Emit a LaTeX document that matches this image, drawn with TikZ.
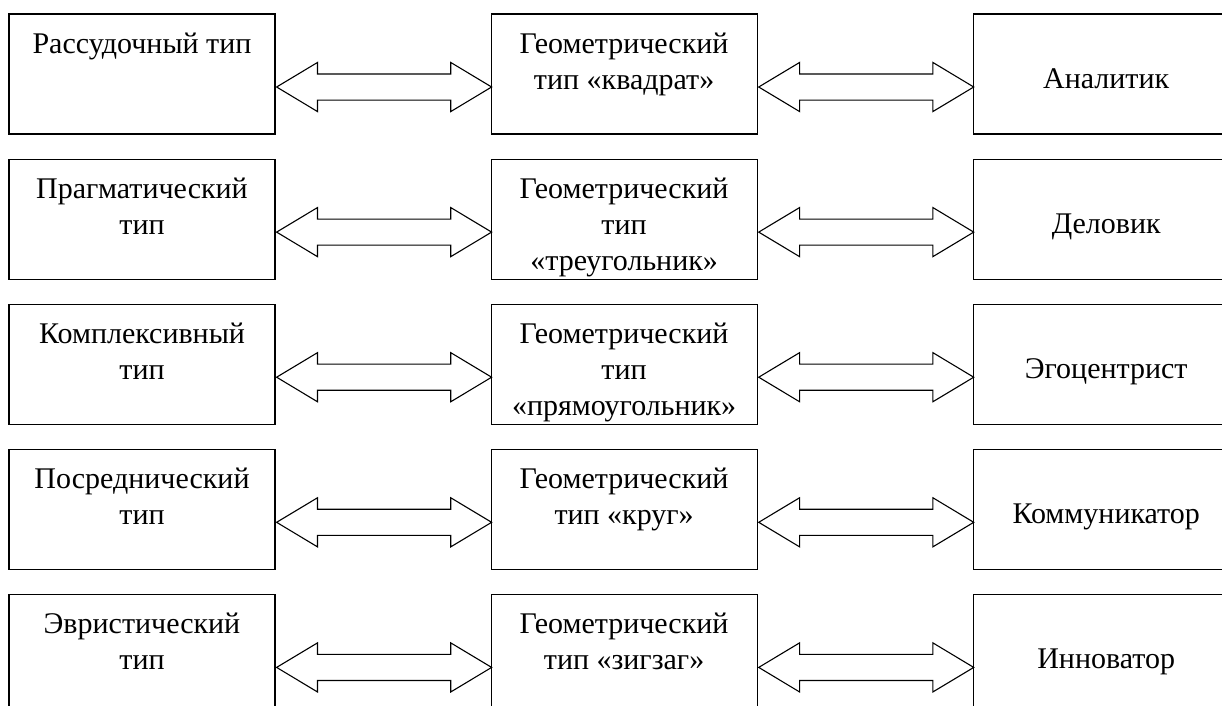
\documentclass[tikz,border=0pt]{standalone}
\usepackage{fontspec}
\setmainfont{Liberation Serif}
\usetikzlibrary{positioning, shapes.arrows}

\begin{document}
\begin{tikzpicture}[
node distance = 24pt and 215pt,
box/.style = {draw, line width=1.1pt, minimum width=266pt,
              minimum height=120pt, inner sep=0pt},
dbl/.style = {draw, double arrow, line width=1.1pt,
              inner xsep=0pt, inner ysep=12.5pt,
              minimum height=215pt, minimum width=48pt,
              double arrow head extend=11.5pt, double arrow tip angle=62},
txt/.style = {inner sep=0pt, align=center,
              font=\fontsize{30}{36}\selectfont},
                        ]
\useasboundingbox (0,0) rectangle (1222pt,-705pt);
\node (l1) [box] at (142pt,-74pt) {};
\node (m1) [box, right=of l1] {};
\node (r1) [box, right=of m1] {};
\node (l2) [box, below=of l1] {};
\node (m2) [box, right=of l2] {};
\node (r2) [box, right=of m2] {};
\node (l3) [box, below=of l2] {};
\node (m3) [box, right=of l3] {};
\node (r3) [box, right=of m3] {};
\node (l4) [box, below=of l3] {};
\node (m4) [box, right=of l4] {};
\node (r4) [box, right=of m4] {};
\node (l5) [box, below=of l4] {};
\node (m5) [box, right=of l5] {};
\node (r5) [box, right=of m5] {};
% texts
\node (l1t) [txt, below=19pt of l1.north] {Рассудочный тип};
\node (m1t) [txt, below=19pt of m1.north] {Геометрический\\тип «квадрат»};
\node (r1t) [txt, below=55pt of r1.north] {Аналитик};
\node (l2t) [txt, below=19pt of l2.north] {Прагматический\\тип};
\node (m2t) [txt, below=19pt of m2.north] {Геометрический\\тип\\«треугольник»};
\node (r2t) [txt, below=55pt of r2.north] {Деловик};
\node (l3t) [txt, below=19pt of l3.north] {Комплексивный\\тип};
\node (m3t) [txt, below=19pt of m3.north] {Геометрический\\тип\\«прямоугольник»};
\node (r3t) [txt, below=55pt of r3.north] {Эгоцентрист};
\node (l4t) [txt, below=19pt of l4.north] {Посреднический\\тип};
\node (m4t) [txt, below=19pt of m4.north] {Геометрический\\тип «круг»};
\node (r4t) [txt, below=55pt of r4.north] {Коммуникатор};
\node (l5t) [txt, below=19pt of l5.north] {Эвристический\\тип};
\node (m5t) [txt, below=19pt of m5.north] {Геометрический\\тип «зигзаг»};
\node (r5t) [txt, below=55pt of r5.north] {Инноватор};
% arrows
\node (a1) [dbl, right=0pt of l1.east, yshift=-13pt] {};
\node (b1) [dbl, right=0pt of m1.east, yshift=-13pt] {};
\node (a2) [dbl, right=0pt of l2.east, yshift=-13pt] {};
\node (b2) [dbl, right=0pt of m2.east, yshift=-13pt] {};
\node (a3) [dbl, right=0pt of l3.east, yshift=-13pt] {};
\node (b3) [dbl, right=0pt of m3.east, yshift=-13pt] {};
\node (a4) [dbl, right=0pt of l4.east, yshift=-13pt] {};
\node (b4) [dbl, right=0pt of m4.east, yshift=-13pt] {};
\node (a5) [dbl, right=0pt of l5.east, yshift=-13pt] {};
\node (b5) [dbl, right=0pt of m5.east, yshift=-13pt] {};
\end{tikzpicture}
\end{document}
